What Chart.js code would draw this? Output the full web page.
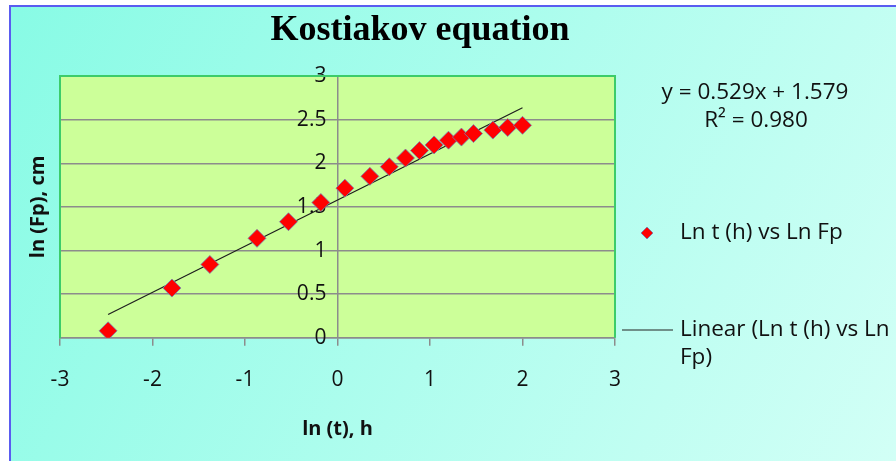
<!DOCTYPE html>
<html>
<head>
<meta charset="utf-8">
<script src="https://cdn.jsdelivr.net/npm/chart.js@4.4.1/dist/chart.umd.min.js"></script>
<style>
    html, body { margin: 0; padding: 0; background: #fff; }
    #wrap { width: 896px; height: 461px; position: relative; }
</style>
</head>
<body>
<div id="wrap"><canvas id="kostiakov-chart"></canvas></div>
<script>
// ln t (h) and ln Fp (cm)
const lnT = [-2.48, -1.79, -1.38, -0.87, -0.53, -0.18, 0.08, 0.35, 0.56, 0.735, 0.886, 1.044, 1.20, 1.34, 1.47, 1.68, 1.84, 2.00];
const lnFp = [0.08, 0.57, 0.84, 1.14, 1.33, 1.55, 1.715, 1.85, 1.96, 2.06, 2.145, 2.21, 2.265, 2.30, 2.34, 2.38, 2.41, 2.435];

// excel linear trendline, as printed on the chart
const trendSlope = 0.529;
const trendIntercept = 1.579;
const trendR2 = "0.980";

const xTicks = [-3, -2, -1, 0, 1, 2, 3];
const yTicks = [0, 0.5, 1, 1.5, 2, 2.5, 3];

const chartTitle = 'Kostiakov equation';
const labelFont = "'Open Sans', sans-serif";

window.addEventListener("DOMContentLoaded", () => {
    setupChart();
});

function setupChart() {
    const ctx = document.getElementById('kostiakov-chart');

    const points = lnT.map((x, i) => ({x: x, y: lnFp[i]}));
    const xLo = Math.min(...lnT), xHi = Math.max(...lnT);
    const trend = [
        {x: xLo, y: trendSlope * xLo + trendIntercept},
        {x: xHi, y: trendSlope * xHi + trendIntercept}
    ];

    const backdrop = {
        id: 'backdrop',
        beforeDraw(chart) {
            const c = chart.ctx;
            const a = chart.chartArea;
            c.save();
            c.fillStyle = '#ffffff';
            c.fillRect(0, 0, chart.width, chart.height);
            const g = c.createLinearGradient(10, 6, chart.width, chart.height);
            g.addColorStop(0, '#88fbe5');
            g.addColorStop(1, '#d2fff6');
            c.fillStyle = g;
            c.fillRect(10, 6, chart.width - 10, chart.height - 6);
            c.strokeStyle = '#5a5cf0';
            c.lineWidth = 2;
            c.beginPath();
            c.moveTo(10, chart.height);
            c.lineTo(10, 6);
            c.lineTo(chart.width, 6);
            c.stroke();
            c.fillStyle = '#ccff99';
            c.fillRect(a.left, a.top, a.right - a.left, a.bottom - a.top);
            c.restore();
        },
        beforeDatasetsDraw(chart) {
            const c = chart.ctx;
            const a = chart.chartArea;
            c.save();
            c.strokeStyle = '#3ccc6a';
            c.lineWidth = 2;
            c.beginPath();
            c.moveTo(a.left, a.bottom);
            c.lineTo(a.left, a.top);
            c.lineTo(a.right, a.top);
            c.lineTo(a.right, a.bottom);
            c.stroke();
            c.restore();
        },
        afterDraw(chart) {
            const c = chart.ctx;
            c.save();
            // title sits over the whole picture, not the plot
            c.fillStyle = '#000';
            c.font = "bold 36px 'Liberation Serif', 'Times New Roman', serif";
            c.textAlign = 'center';
            c.textBaseline = 'alphabetic';
            c.fillText(chartTitle, 420, 40);

            c.fillStyle = '#111';
            c.font = "22.5px " + labelFont;
            c.textBaseline = 'middle';
            c.fillText("y = " + trendSlope + "x + " + trendIntercept, 755, 93);
            c.fillText("R² = " + trendR2, 756, 121);

            c.textAlign = 'left';
            // scatter legend entry
            c.fillStyle = '#ff0000';
            c.strokeStyle = '#7080b0';
            c.lineWidth = 0.8;
            c.beginPath();
            c.moveTo(641, 233);
            c.lineTo(647, 227);
            c.lineTo(653, 233);
            c.lineTo(647, 239);
            c.closePath();
            c.fill();
            c.stroke();
            c.fillStyle = '#111';
            c.fillText(chart.data.datasets[0].label, 680, 233);
            // trendline legend entry
            c.strokeStyle = '#222';
            c.lineWidth = 1.2;
            c.beginPath();
            c.moveTo(622, 330);
            c.lineTo(673, 330);
            c.stroke();
            c.fillText("Linear (Ln t (h) vs Ln", 680, 330);
            c.fillText("Fp)", 680, 358);
            c.restore();
        }
    };

    const config = {
        type: 'scatter',
        data: {
            datasets: [{
                label: 'Ln t (h) vs Ln Fp',
                data: points,
                yAxisID: 'y',
                pointStyle: 'rectRot',
                pointRadius: 9,
                pointHoverRadius: 9,
                backgroundColor: '#ff0000',
                borderColor: '#7384b4',
                borderWidth: 0.8,
                order: 1
            }, {
                label: 'Linear (Ln t (h) vs Ln Fp)',
                type: 'line',
                data: trend,
                yAxisID: 'y',
                borderColor: '#1e1e1e',
                borderWidth: 1.2,
                pointRadius: 0,
                fill: false,
                order: 2
            }]
        },
        options: {
            responsive: true,
            maintainAspectRatio: false,
            animation: false,
            layout: {
                padding: {left: 20, right: 281, top: 76, bottom: 16}
            },
            plugins: {
                legend: {display: false},
                tooltip: {enabled: false},
                title: {display: false}
            },
            scales: {
                x: {
                    type: 'linear',
                    position: 'bottom',
                    min: -3,
                    max: 3,
                    afterBuildTicks: (s) => { s.ticks = xTicks.map(v => ({value: v})); },
                    grid: {
                        drawOnChartArea: true,
                        drawTicks: true,
                        tickLength: 8,
                        // only the value axis line at x = 0 crosses the plot
                        color: (c) => (c.tick && c.tick.value === 0) ? '#8c8c8c' : 'rgba(0,0,0,0)',
                        tickColor: '#8c8c8c',
                        lineWidth: 1.5
                    },
                    border: {color: '#8c8c8c', width: 1.5},
                    ticks: {
                        color: '#111',
                        font: {family: labelFont, size: 21},
                        padding: 22
                    },
                    title: {
                        display: true,
                        text: 'ln (t), h',
                        color: '#111',
                        font: {family: labelFont, size: 20, weight: 'bold'},
                        padding: {top: 2, bottom: 4}
                    }
                },
                y: {
                    type: 'linear',
                    position: 'left',
                    min: 0,
                    max: 3,
                    afterBuildTicks: (s) => { s.ticks = yTicks.map(v => ({value: v})); },
                    grid: {
                        drawTicks: false,
                        color: '#8c8c8c',
                        lineWidth: 1.5
                    },
                    border: {color: '#3ccc6a', width: 2},
                    ticks: {display: false},
                    title: {
                        display: true,
                        text: 'ln (Fp), cm',
                        color: '#111',
                        font: {family: labelFont, size: 20, weight: 'bold'},
                        padding: {top: 6, bottom: 10}
                    }
                },
                yMid: {
                    type: 'linear',
                    axis: 'y',
                    position: {x: -0.12},
                    min: 0,
                    max: 3,
                    afterBuildTicks: (s) => { s.ticks = yTicks.map(v => ({value: v})); },
                    grid: {drawOnChartArea: false, drawTicks: false},
                    border: {display: false},
                    ticks: {
                        color: '#111',
                        font: {family: labelFont, size: 21},
                        padding: 0,
                        callback: (v) => String(v)
                    }
                }
            }
        },
        plugins: [backdrop]
    };

    return new Chart(ctx, config);
}
</script>
</body>
</html>
